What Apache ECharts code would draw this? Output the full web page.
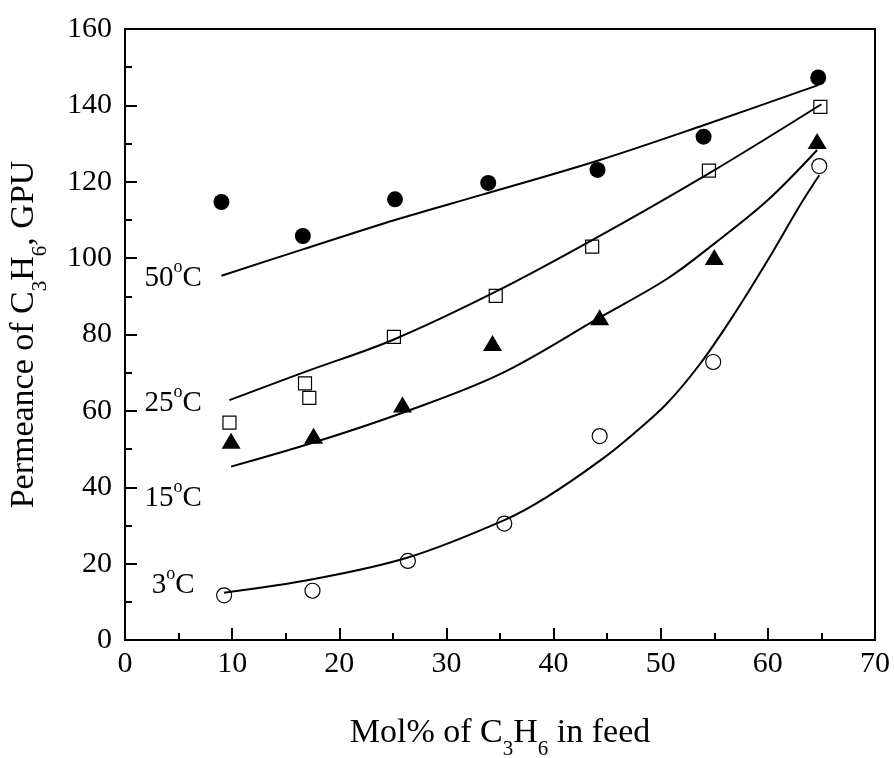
<!DOCTYPE html>
<html>
<head>
<meta charset="utf-8">
<script src="https://cdn.jsdelivr.net/npm/echarts@6/dist/echarts.min.js"></script>
<style>html,body{margin:0;padding:0;background:#fff}#c{width:894px;height:758px}</style>
</head>
<body>
<div id="c"></div>
<script>
// Measured points (Mol% C3H6, permeance GPU)
var x50 = [9.0, 16.6, 25.2, 33.9, 44.1, 54.0, 64.7];
var y50 = [114.7, 105.8, 115.4, 119.7, 123.1, 131.8, 147.3];
var x25 = [9.75, 16.8, 17.2, 25.1, 34.6, 43.6, 54.5, 64.9];
var y25 = [56.9, 67.2, 63.4, 79.4, 90.1, 103.0, 122.9, 139.6];
var x15 = [9.9, 17.6, 25.9, 34.3, 44.3, 55.0, 64.6];
var y15 = [52.2, 53.5, 61.7, 77.8, 84.5, 100.3, 130.7];
var x3 = [9.25, 17.5, 26.4, 35.4, 44.3, 54.9, 64.8];
var y3 = [11.7, 12.9, 20.7, 30.5, 53.4, 72.8, 124.1];

// Model curves
var fit50x = [9.0, 16.6, 25.2, 33.2, 44.1, 54.0, 64.7];
var fit50y = [95.4, 102.3, 110.0, 116.5, 125.5, 134.8, 145.3];
var fit25x = [9.75, 16.8, 25.1, 34.6, 43.6, 54.5, 65.0];
var fit25y = [62.8, 70.2, 78.7, 91.2, 104.7, 122.2, 140.3];
var fit15x = [9.9, 17.6, 25.9, 35.0, 44.4, 50.6, 55.0, 60.0, 64.6];
var fit15y = [45.4, 51.7, 59.5, 69.6, 84.6, 94.6, 103.8, 115.2, 128.3];
var fit3x = [9.25, 17.5, 26.4, 35.4, 39.4, 44.4, 47.5, 50.6, 53.7, 56.9, 60.0, 63.1, 64.8];
var fit3y = [12.4, 15.9, 21.6, 31.4, 37.5, 47.1, 54.1, 62.0, 72.4, 85.5, 99.5, 114.3, 121.7];

// Curve labels (temperature) and their anchor positions in data units
var tempLabels = ['50', '25', '15', '3'];
var tempLabelX = [4.5, 4.5, 4.5, 4.5];
var tempLabelY = [94.8, 62.0, 37.2, 14.4];

var xTicks = {min: 0, max: 70, interval: 10};
var yTicks = {min: 0, max: 160, interval: 20};

function pairs(xs, ys) { return xs.map(function (x, i) { return [x, ys[i]]; }); }

var FONT = "'Liberation Serif', 'Times New Roman', serif";

var chart = echarts.init(document.getElementById('c'), null, {renderer: 'canvas'});

function lineSeries(xs, ys) {
  return {
    type: 'line', data: pairs(xs, ys), smooth: 0.35, showSymbol: false, symbol: 'none',
    lineStyle: {color: '#000', width: 2}, z: 3, silent: true
  };
}

var option = {
  backgroundColor: '#fff',
  animation: false,
  grid: {left: 125, right: 19, top: 29, bottom: 118, show: true, borderColor: '#000', borderWidth: 2,
    containLabel: false, outerBoundsMode: 'none'},
  xAxis: {
    type: 'value', min: xTicks.min, max: xTicks.max, interval: xTicks.interval,
    name: 'Mol% of C{sub|3}H{sub|6} in feed',
    nameLocation: 'middle', nameGap: 66,
    nameTextStyle: {fontFamily: FONT, fontSize: 34, color: '#000', lineHeight: 54,
      rich: {sub: {fontFamily: FONT, fontSize: 21, lineHeight: 20, verticalAlign: 'bottom', color: '#000'}}},
    axisLine: {show: true, lineStyle: {color: '#000', width: 2}},
    axisTick: {show: true, inside: true, length: 12, lineStyle: {color: '#000', width: 2}},
    minorTick: {show: true, splitNumber: 2, length: 7, lineStyle: {color: '#000', width: 2}},
    axisLabel: {fontFamily: FONT, fontSize: 30, color: '#000', margin: 9},
    splitLine: {show: false}
  },
  yAxis: {
    type: 'value', min: yTicks.min, max: yTicks.max, interval: yTicks.interval,
    name: 'Permeance of C{sub|3}H{sub|6}, GPU',
    nameLocation: 'middle', nameGap: 74, nameRotate: 90,
    nameTextStyle: {fontFamily: FONT, fontSize: 34, color: '#000', lineHeight: 54,
      rich: {sub: {fontFamily: FONT, fontSize: 21, lineHeight: 20, verticalAlign: 'bottom', color: '#000'}}},
    axisLine: {show: true, lineStyle: {color: '#000', width: 2}},
    axisTick: {show: true, inside: true, length: 12, lineStyle: {color: '#000', width: 2}},
    minorTick: {show: true, splitNumber: 2, length: 7, lineStyle: {color: '#000', width: 2}},
    axisLabel: {fontFamily: FONT, fontSize: 30, color: '#000', margin: 13},
    splitLine: {show: false}
  },
  series: [
    lineSeries(fit50x, fit50y),
    lineSeries(fit25x, fit25y),
    lineSeries(fit15x, fit15y),
    lineSeries(fit3x, fit3y),
    {type: 'scatter', data: pairs(x50, y50), symbol: 'circle', symbolSize: 16,
      itemStyle: {color: '#000', opacity: 1}, z: 4},
    {type: 'scatter', data: pairs(x25, y25), symbol: 'rect', symbolSize: 13,
      itemStyle: {color: 'rgba(0,0,0,0)', borderColor: '#000', borderWidth: 1.2, opacity: 1}, z: 4},
    {type: 'scatter', data: pairs(x15, y15), symbol: 'triangle', symbolSize: [19, 16],
      itemStyle: {color: '#000', opacity: 1}, z: 4},
    {type: 'scatter', data: pairs(x3, y3), symbol: 'circle', symbolSize: 15,
      itemStyle: {color: 'rgba(0,0,0,0)', borderColor: '#000', borderWidth: 1.2, opacity: 1}, z: 4},
    {type: 'scatter', symbolSize: 0, silent: true, z: 5,
      itemStyle: {opacity: 1},
      data: tempLabels.map(function (t, i) { return {value: [tempLabelX[i], tempLabelY[i]], name: t}; }),
      label: {show: true, position: 'inside', fontFamily: FONT, fontSize: 29, color: '#000', lineHeight: 40,
        textBorderWidth: 0, opacity: 1,
        formatter: function (p) { return p.name + '{sup|o}C'; },
        rich: {sup: {fontFamily: FONT, fontSize: 18, lineHeight: 18, verticalAlign: 'top', color: '#000'}}}}
  ]
};
chart.setOption(option);
</script>
</body>
</html>
